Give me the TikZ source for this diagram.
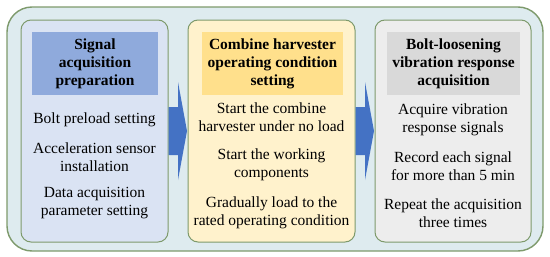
\documentclass[tikz,border=0pt]{standalone}
\usepackage{fontspec}
\setmainfont{Liberation Serif}
\newfontfamily\timesfont{Liberation Serif}
\usepackage{tikz}
\usetikzlibrary{positioning,calc,arrows.meta}
\definecolor{frameedge}{HTML}{7E9A6C}
\definecolor{framefill}{HTML}{DEEBEF}
\definecolor{prepfill}{HTML}{DAE3F3}
\definecolor{prephead}{HTML}{8FAADC}
\definecolor{runfill}{HTML}{FFF2CC}
\definecolor{runhead}{HTML}{FFE08C}
\definecolor{acqfill}{HTML}{EDEDED}
\definecolor{acqhead}{HTML}{D9D9D9}
\definecolor{flowblue}{HTML}{4472C4}

\begin{document}
\begin{tikzpicture}[x=1pt, y=-1pt, line join=round,
  font=\timesfont\fontsize{15.5}{18}\selectfont,
  panel/.style={draw=frameedge, line width=1pt, rounded corners=10pt, inner sep=0pt, outer sep=0pt,
    minimum width=147pt, minimum height=222pt},
  head/.style={inner sep=0pt, outer sep=0pt, minimum height=63pt, align=center,
    font=\timesfont\fontsize{15.5}{18}\selectfont\bfseries},
  item/.style={inner sep=0pt, align=center},
  flow/.style={fill=flowblue}]
  \useasboundingbox (0,0) rectangle (550,257);
  \draw[draw=frameedge, fill=framefill, line width=1.4pt, rounded corners=25pt] (7,7) rectangle (543,251);
  % panels
  \node[panel, fill=prepfill] (p1) at (94.5,131) {};
  \node[panel, fill=runfill, minimum width=167pt] (p2) at (271.5,131) {};
  \node[panel, fill=acqfill, minimum width=156pt] (p3) at (453,131) {};
  % headers
  \node[head, fill=prephead, minimum width=126pt] (h1) at (95,63.5) {Signal\\acquisition\\preparation};
  \node[head, fill=runhead, minimum width=141pt] (h2) at (272.5,63.5) {Combine harvester\\operating condition\\setting};
  \node[head, fill=acqhead, minimum width=133pt] (h3) at (453.5,63.5) {Bolt-loosening\\vibration response\\acquisition};
  % steps
  \node[item] (a1) at (94.5,120) {Bolt preload setting};
  \node[item] (a2) at (94.5,157) {Acceleration sensor\\installation};
  \node[item] (a3) at (94.5,203.5) {Data acquisition\\parameter setting};
  \node[item] (b1) at (271.5,117.5) {Start the combine\\harvester under no load};
  \node[item] (b2) at (271.5,164.5) {Start the working\\components};
  \node[item] (b3) at (271.5,212.5) {Gradually load to the\\rated operating condition};
  \node[item] (c1) at (453,120) {Acquire vibration\\response signals};
  \node[item] (c2) at (453,166.5) {Record each signal\\for more than 5 min};
  \node[item] (c3) at (453,213) {Repeat the acquisition\\three times};
  % block arrows
  \fill[flow] ($(p1.east)+(0.5,-24)$) -- ($(p1.east)+(10,-24)$) -- ($(p1.east)+(10,-49)$)
    -- ($(p2.west)+(-1,0)$) -- ($(p1.east)+(10,49)$) -- ($(p1.east)+(10,24)$) -- ($(p1.east)+(0.5,24)$) -- cycle;
  \fill[flow] ($(p2.east)+(0.5,-24)$) -- ($(p2.east)+(10,-24)$) -- ($(p2.east)+(10,-49)$)
    -- ($(p3.west)+(-1,0)$) -- ($(p2.east)+(10,49)$) -- ($(p2.east)+(10,24)$) -- ($(p2.east)+(0.5,24)$) -- cycle;
\end{tikzpicture}
\end{document}
